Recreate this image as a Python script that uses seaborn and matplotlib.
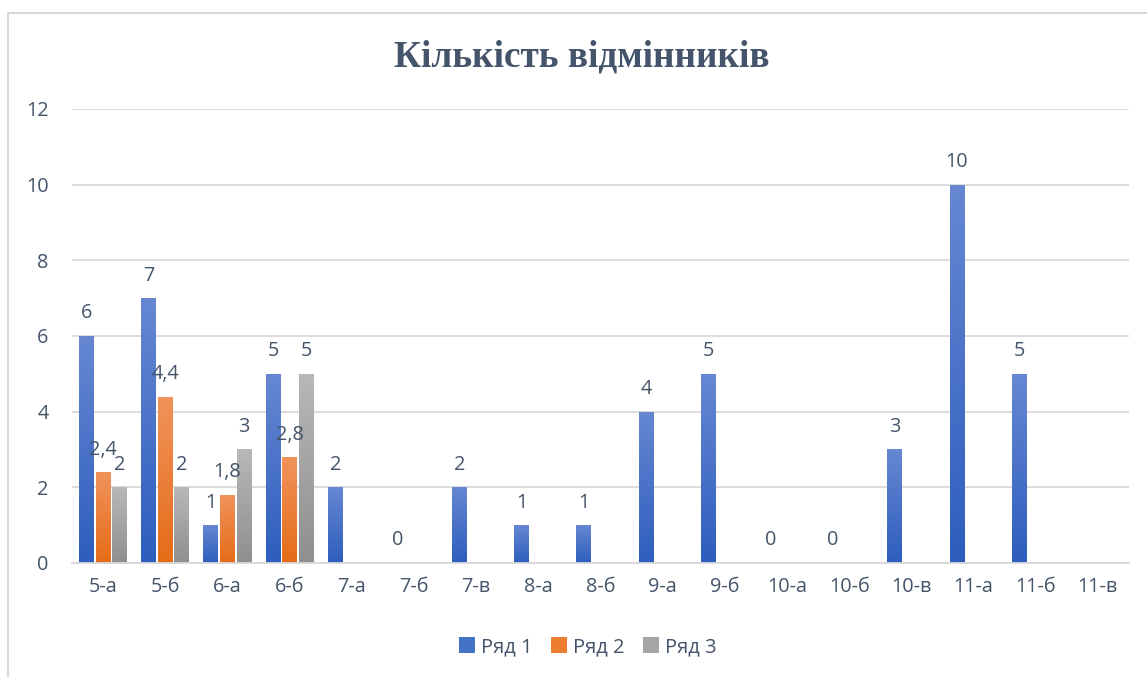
import numpy as np
import pandas as pd
import matplotlib
matplotlib.use("Agg")
import matplotlib.pyplot as plt
import seaborn as sns
from matplotlib.colors import LinearSegmentedColormap
from matplotlib.patches import Patch

# ---- data ----
categories = ["5-а", "5-б", "6-а", "6-б", "7-а", "7-б", "7-в", "8-а", "8-б",
              "9-а", "9-б", "10-а", "10-б", "10-в", "11-а", "11-б", "11-в"]
series_names = ["Ряд 1", "Ряд 2", "Ряд 3"]
row1 = [6, 7, 1, 5, 2, 0, 2, 1, 1, 4, 5, 0, 0, 3, 10, 5, np.nan]
row2 = [2.4, 4.4, 1.8, 2.8] + [np.nan] * 13
row3 = [2, 2, 3, 5] + [np.nan] * 13
title = "Кількість відмінників"
yticks = [0, 2, 4, 6, 8, 10, 12]

colors = ["#4472C4", "#ED7D31", "#A5A5A5"]
grad_top = ["#6787D2", "#F1935C", "#B8B8B8"]
grad_bot = ["#2D5EBE", "#E56C17", "#8F8F8F"]

rows = []
for name, vals in zip(series_names, [row1, row2, row3]):
    for c, v in zip(categories, vals):
        if not np.isnan(v):
            rows.append({"cat": c, "series": name, "value": v})
df = pd.DataFrame(rows)

sns.set_theme(style="white")
plt.rcParams['font.family'] = ['Open Sans', 'DejaVu Sans']

fig = plt.figure(figsize=(11.47, 6.77), dpi=100)
ax = fig.add_axes([0.0628, 0.1684, 0.9843 - 0.0628, 0.839 - 0.1684])

sns.barplot(data=df, x="cat", y="value", hue="series", order=categories,
            hue_order=series_names, palette=colors, width=0.8, gap=0.1,
            ax=ax, legend=False, saturation=1, errorbar=None, linewidth=0)

text_col = "#44546A"
fs = 14.3
ax.set_ylim(0, 12)
ax.set_xlim(-0.5, len(categories) - 0.5)
ax.set_yticks(yticks)
ax.set_yticklabels([str(t) for t in yticks])
ax.grid(axis="y", color="#D9D9D9", linewidth=1.3)
ax.set_axisbelow(True)
for s in ["left", "right", "top"]:
    ax.spines[s].set_visible(False)
ax.spines["bottom"].set_color("#D9D9D9")
ax.spines["bottom"].set_linewidth(1.3)
ax.tick_params(axis="y", length=0, pad=17, labelsize=fs, labelcolor=text_col)
ax.tick_params(axis="x", length=0, pad=10, labelsize=fs, labelcolor=text_col)
ax.set_xlabel("")
ax.set_ylabel("")

# gradient fill + labels
for i, cont in enumerate(ax.containers):
    cmap = LinearSegmentedColormap.from_list(f"g{i}", [grad_bot[i], grad_top[i]])
    grad = np.linspace(0, 1, 256).reshape(-1, 1)
    for bar in cont:
        h = bar.get_height()
        if np.isnan(h) or h <= 0:
            continue
        x0 = bar.get_x()
        w = bar.get_width()
        im = ax.imshow(grad, extent=[x0, x0 + w, 0, h], origin="lower",
                       cmap=cmap, aspect="auto", zorder=bar.get_zorder() + 0.1)
        im.set_clip_path(bar)
    labels = []
    for bar in cont:
        h = bar.get_height()
        if np.isnan(h):
            labels.append("")
        elif float(h).is_integer():
            labels.append(str(int(h)))
        else:
            labels.append(f"{h:.1f}".replace(".", ","))
    ax.bar_label(cont, labels=labels, padding=9, fontsize=fs, color=text_col)

ax.set_ylim(0, 12)
ax.set_xlim(-0.5, len(categories) - 0.5)

fig.text(582 / 1147, 1 - 57 / 677, title, ha="center", va="center",
         fontsize=26.8, fontweight="bold", color=text_col,
         family=["Liberation Serif", "DejaVu Serif"])

handles = [Patch(facecolor=c, edgecolor="none") for c in colors]
fig.legend(handles, series_names, loc="center", bbox_to_anchor=(588 / 1147, 1 - 647 / 677),
           ncol=3, frameon=False, fontsize=14.5, labelcolor=text_col,
           handlelength=0.8, handleheight=0.8, handletextpad=0.3, columnspacing=0.9)

# chart border (top and left visible)
fig.add_artist(plt.Line2D([8 / 1147, 1.0], [1 - 13 / 677, 1 - 13 / 677],
                          transform=fig.transFigure, color="#D9D9D9", lw=1.5))
fig.add_artist(plt.Line2D([8 / 1147, 8 / 1147], [0, 1 - 13 / 677],
                          transform=fig.transFigure, color="#D9D9D9", lw=1.5))

fig.savefig("out.png", dpi=100)
